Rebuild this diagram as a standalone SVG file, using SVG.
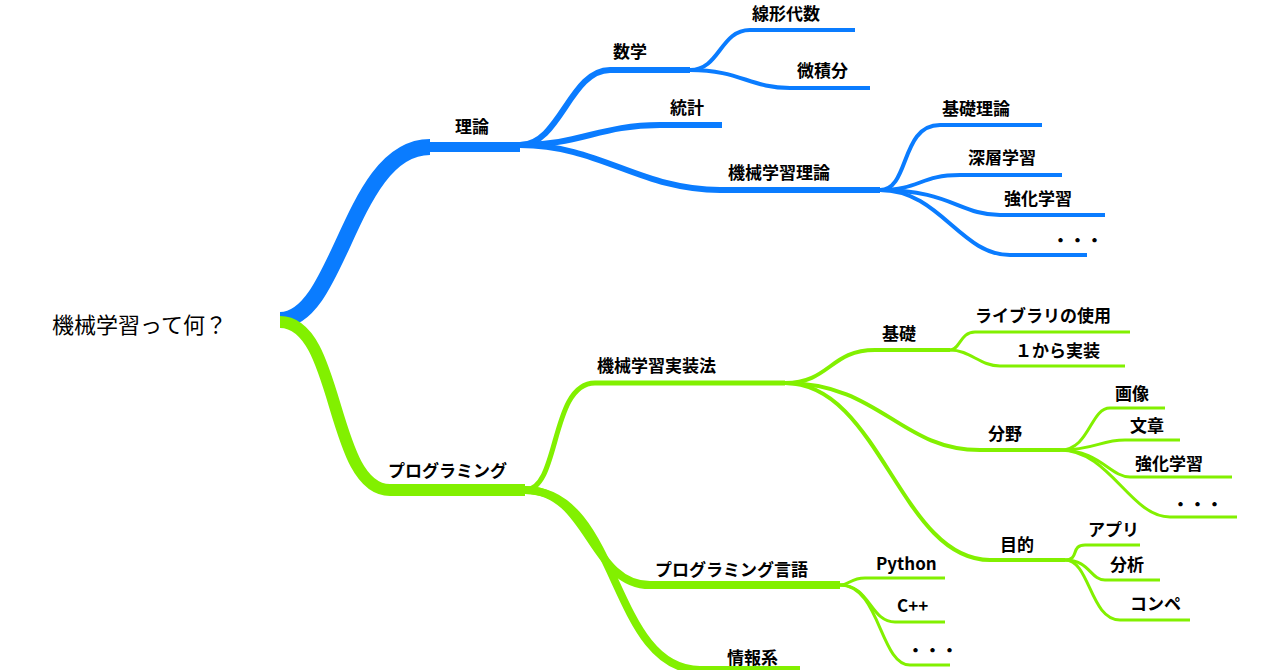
<svg xmlns="http://www.w3.org/2000/svg" width="1280" height="670" viewBox="0 0 1280 670">
<style>
.b{fill:none;stroke:#0a7cff;stroke-linecap:butt}
.g{fill:none;stroke:#82f000;stroke-linecap:butt}
text{font-family:"Noto Sans CJK JP","Liberation Sans",sans-serif;font-size:17px;fill:#000;font-weight:bold}
.r{font-size:22px;font-weight:normal}
</style>
<rect width="1280" height="670" fill="#fff"/>
<g id="connectors">
<path class="b" stroke-width="16" d="M280,320 C340,320 350,147 430,147"/>
<path class="b" stroke-width="10" d="M425,147 L520,147"/>
<path class="b" stroke-width="6" d="M520,145 C560,145 570,70 610,70 L690,70"/>
<path class="b" stroke-width="4" d="M690,70 C720,70 720,30 750,30 L855,30"/>
<path class="b" stroke-width="4" d="M690,70 C740,70 750,88 790,88 L870,88"/>
<path class="b" stroke-width="6" d="M520,145 C580,145 600,125 660,125 L722,125"/>
<path class="b" stroke-width="6" d="M520,145 C600,145 640,190 720,190 L880,190"/>
<path class="b" stroke-width="4" d="M880,190 C910,190 900,125 940,125 L1042,125"/>
<path class="b" stroke-width="4" d="M880,190 C920,190 920,175 960,175 L1062,175"/>
<path class="b" stroke-width="4" d="M880,190 C950,190 960,215 1000,215 L1105,215"/>
<path class="b" stroke-width="4" d="M880,190 C940,190 960,255 1010,255 L1087,255"/>
<path class="g" stroke-width="12" d="M280,322 C340,322 330,490 390,490 L525,490"/>
<path class="g" stroke-width="5" d="M525,490 C560,490 550,383 595,383 L785,383"/>
<path class="g" stroke-width="4" d="M785,383 C830,383 830,350 875,350 L950,350"/>
<path class="g" stroke-width="3" d="M950,350 C960,350 960,332 975,332 L1130,332"/>
<path class="g" stroke-width="3" d="M950,350 C970,350 980,366 1000,366 L1125,366"/>
<path class="g" stroke-width="4" d="M785,383 C880,383 900,450 980,450 L1060,450"/>
<path class="g" stroke-width="3" d="M1060,450 C1090,450 1090,408 1110,408 L1165,408"/>
<path class="g" stroke-width="3" d="M1060,450 C1095,450 1100,440 1125,440 L1180,440"/>
<path class="g" stroke-width="3" d="M1060,450 C1100,450 1110,477 1130,477 L1232,477"/>
<path class="g" stroke-width="3" d="M1060,450 C1110,450 1130,517 1170,517 L1237,517"/>
<path class="g" stroke-width="4" d="M785,383 C880,383 900,560 990,560 L1065,560"/>
<path class="g" stroke-width="3" d="M1065,560 C1080,560 1070,545 1085,545 L1140,545"/>
<path class="g" stroke-width="3" d="M1065,560 C1090,560 1090,580 1105,580 L1160,580"/>
<path class="g" stroke-width="3" d="M1065,560 C1090,560 1090,620 1120,620 L1190,620"/>
<path class="g" stroke-width="8" d="M525,490 C590,490 590,585 650,585 L840,585"/>
<path class="g" stroke-width="3" d="M840,585 C850,585 850,578 865,578 L945,578"/>
<path class="g" stroke-width="3" d="M840,585 C870,585 870,622 895,622 L945,622"/>
<path class="g" stroke-width="3" d="M840,585 C880,585 880,665 910,665 L950,665"/>
<path class="g" stroke-width="8" d="M525,490 C620,490 610,670 700,670 L800,670"/>
</g>
<g id="root"><text class="r" x="52" y="333">機械学習って何？</text></g>
<g id="n1"><text x="455" y="133">理論</text></g>
<g id="n2"><text x="613" y="58">数学</text></g>
<g id="n3"><text x="752" y="20">線形代数</text></g>
<g id="n4"><text x="797" y="77">微積分</text></g>
<g id="n5"><text x="670" y="114">統計</text></g>
<g id="n6"><text x="728" y="179">機械学習理論</text></g>
<g id="n7"><text x="942" y="115">基礎理論</text></g>
<g id="n8"><text x="968" y="164">深層学習</text></g>
<g id="n9"><text x="1004" y="205">強化学習</text></g>
<g id="n10"><text x="1052" y="247">・・・</text></g>
<g id="n11"><text x="388" y="477">プログラミング</text></g>
<g id="n12"><text x="597" y="372">機械学習実装法</text></g>
<g id="n13"><text x="882" y="340">基礎</text></g>
<g id="n14"><text x="975" y="322">ライブラリの使用</text></g>
<g id="n15"><text x="1015" y="357">１から実装</text></g>
<g id="n16"><text x="988" y="440">分野</text></g>
<g id="n17"><text x="1115" y="400">画像</text></g>
<g id="n18"><text x="1130" y="432">文章</text></g>
<g id="n19"><text x="1135" y="470">強化学習</text></g>
<g id="n20"><text x="1172" y="511">・・・</text></g>
<g id="n21"><text x="1000" y="551">目的</text></g>
<g id="n22"><text x="1088" y="536">アプリ</text></g>
<g id="n23"><text x="1110" y="571">分析</text></g>
<g id="n24"><text x="1130" y="610">コンペ</text></g>
<g id="n25"><text x="655" y="576">プログラミング言語</text></g>
<g id="n26"><text x="876" y="570">Python</text></g>
<g id="n27"><text x="897" y="612">C++</text></g>
<g id="n28"><text x="907" y="657">・・・</text></g>
<g id="n29"><text x="727" y="664">情報系</text></g>
</svg>
